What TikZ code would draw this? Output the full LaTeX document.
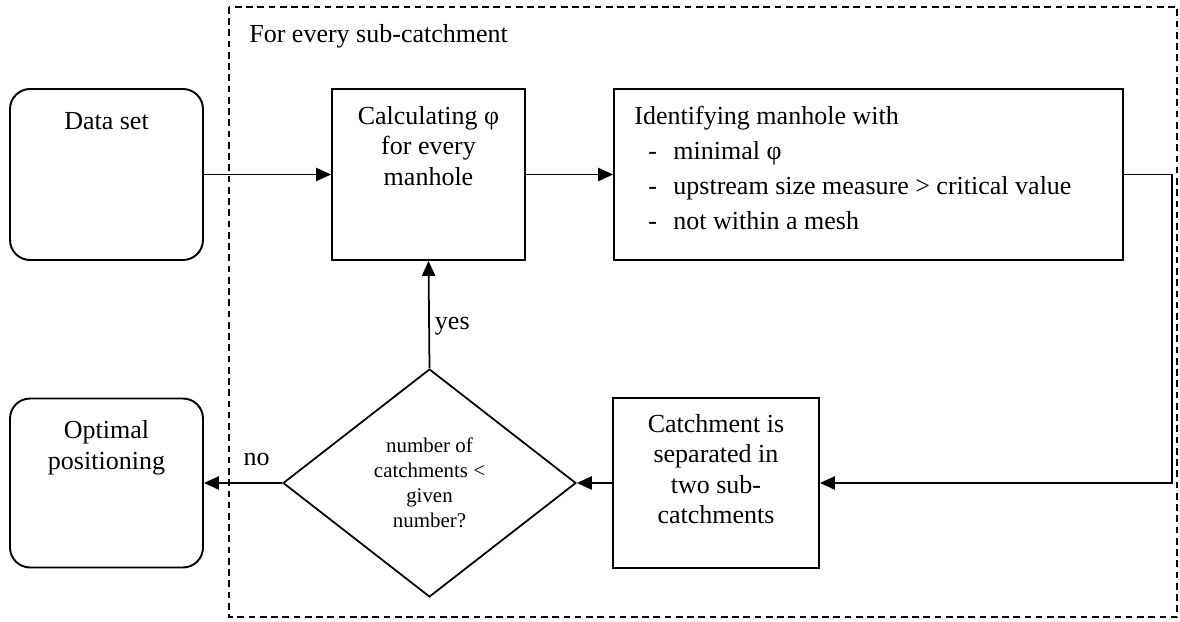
\documentclass[tikz,border=0pt]{standalone}
\usepackage{fontspec}
\setmainfont{Liberation Serif}
\usetikzlibrary{shapes.geometric,arrows.meta}
\newcommand{\mainsize}{\fontsize{14.8pt}{17.3pt}\selectfont}
\newcommand{\listsize}{\fontsize{14.8pt}{19.8pt}\selectfont}
\newcommand{\decisionsize}{\fontsize{11.9pt}{14.2pt}\selectfont}
\newcommand{\dashitem}[1]{\makebox[0.78cm][l]{\hspace*{0.28cm}-}#1}
\begin{document}
\begin{tikzpicture}[x=0.02cm, y=-0.02cm, font=\mainsize,
	box/.style={draw, line width=1.1pt, inner sep=0pt},
	start/.style={box, rounded corners=0.4cm},
	decision/.style={draw, diamond, line width=1pt, inner sep=0pt, align=center, font=\decisionsize},
	toptext/.style={anchor=north, inner sep=0pt, align=center},
	flow/.style={line width=1pt, -{Triangle[length=8.5pt,width=7.5pt]}},
	frame/.style={line width=0.9pt, dash pattern=on 3.8pt off 2.6pt}]
	\useasboundingbox (0,0) rectangle (1180,622);
	\draw[frame] (229,7) rectangle (1177,617);
	\node[anchor=base west, inner sep=0pt] (title) at (249,42) {For every sub-catchment};

	\node[start, minimum width=3.86cm, minimum height=3.42cm, label={[toptext, yshift=-0.49cm]north:Data set}] (data) at (106.5,174.5) {};
	\node[box, minimum width=3.86cm, minimum height=3.42cm, label={[toptext, yshift=-0.36cm]north:{Calculating φ\\for every\\manhole}}] (calc) at (428.5,174.5) {};
	\node[box, minimum width=10.18cm, minimum height=3.42cm, label={[anchor=north west, inner sep=0pt, align=left, font=\listsize, xshift=0.42cm, yshift=-0.36cm]north west:{Identifying manhole with\\\dashitem{minimal φ}\\\dashitem{upstream size measure > critical value}\\\dashitem{not within a mesh}}}] (ident) at (868.5,174.5) {};
	\node[box, minimum width=4.12cm, minimum height=3.4cm, label={[toptext, yshift=-0.34cm]north:{Catchment is\\separated in\\two sub-\\catchments}}] (catch) at (716,483) {};
	\node[decision, minimum width=5.86cm, minimum height=4.56cm] (check) at (429.5,483) {number of\\catchments <\\given\\number?};
	\node[start, minimum width=3.86cm, minimum height=3.38cm, label={[toptext, yshift=-0.46cm]north:{Optimal\\positioning}}] (opt) at (106.5,483) {};

	\draw[flow] (data.east) -- (calc.west);
	\draw[flow] (calc.east) -- (ident.west);
	\draw[flow] (ident.east) -- ++(48,0) |- (catch.east);
	\draw[flow] (catch.west) -- (check.east);
	\draw[flow] (check.west) -- node[above=0.32cm, pos=0.325, inner sep=0pt] (nolabel) {no} (opt.east);
	\draw[flow] (check.north) -- node[right=0.1cm, pos=0.39, inner sep=0pt] (yeslabel) {yes} (calc.south);
\end{tikzpicture}
\end{document}
